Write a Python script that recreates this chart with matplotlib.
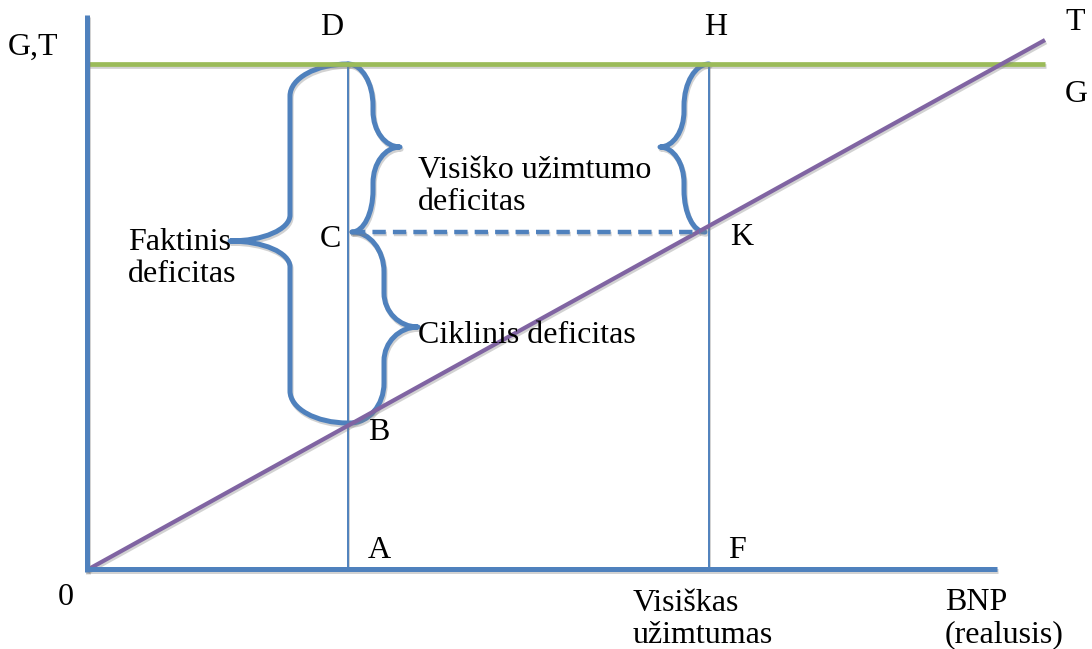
import matplotlib
matplotlib.use('Agg')
import matplotlib.pyplot as plt
import matplotlib.patheffects as pe
from matplotlib.path import Path
from matplotlib.patches import PathPatch

# Colours (Office palette)
blue   = '#4F81BD'
green  = '#9BBB59'
purple = '#8064A2'

# Key points of the diagram, in picture pixels (y grows downwards)
y_axis_x      = [87, 87]
y_axis_y      = [15, 572]
x_axis_x      = [85, 997]
x_axis_y      = [569, 569]
g_line_x      = [87, 1045]
g_line_y      = [64, 64]
t_line_x      = [87, 1045]
t_line_y      = [570, 40]
verticals_x   = [348, 709]
verticals_top = 64
verticals_bot = 570
dash_x        = [352, 700]
dash_y        = [232, 232]

# Braces: top end (x, y), bottom end (x, y), shoulder x, tip (x, y), end radius, tip radius
braces = [
	((348, 64), (348, 423), 290, (230, 241), 32, 26),
	((348, 64), (352, 232), 373, (400, 147), 42, 36),
	((352, 232), (350, 423), 384, (418, 327), 40, 34),
	((709, 64), (705, 232), 684, (660, 147), 42, 36),
]

# Labels: (text, x, baseline y)
labels = [
	('G,T', 8, 55),
	('D', 320, 35),
	('H', 704, 35),
	('T', 1065, 30),
	('G', 1065, 102),
	('Faktinis\ndeficitas', 128, 282),
	('C', 320, 247),
	('K', 730, 245),
	('Visiško užimtumo\ndeficitas', 418, 210),
	('Ciklinis deficitas', 418, 343),
	('B', 368, 440),
	('A', 368, 558),
	('F', 728, 558),
	('0', 58, 605),
	('Visiškas\nužimtumas', 633, 643),
	('BNP\n(realusis)', 945, 642),
]

k = 0.552

def brace_path(p_top, p_bot, xs, tip, r, r2):
	x0, y0 = p_top
	x1, y1 = p_bot
	xt, ym = tip
	verts = [
		(x0, y0),
		(x0 + k*(xs-x0), y0), (xs, y0 + r - k*r), (xs, y0 + r),
		(xs, ym - r2),
		(xs, ym - r2 + k*r2), (xt + k*(xs-xt), ym), (xt, ym),
		(xt + k*(xs-xt), ym), (xs, ym + r2 - k*r2), (xs, ym + r2),
		(xs, y1 - r),
		(xs, y1 - r + k*r), (x1 + k*(xs-x1), y1), (x1, y1),
	]
	codes = [Path.MOVETO,
		Path.CURVE4, Path.CURVE4, Path.CURVE4,
		Path.LINETO,
		Path.CURVE4, Path.CURVE4, Path.CURVE4,
		Path.CURVE4, Path.CURVE4, Path.CURVE4,
		Path.LINETO,
		Path.CURVE4, Path.CURVE4, Path.CURVE4]
	return Path(verts, codes)

plt.rcParams['font.family'] = 'serif'
plt.rcParams['font.serif'] = ['Liberation Serif', 'Times New Roman', 'DejaVu Serif']

fig = plt.figure(figsize=(10.92, 6.49), dpi=100)
ax = fig.add_axes([0, 0, 1, 1])
ax.set_xlim(0, 1092)
ax.set_ylim(649, 0)
ax.axis('off')

shadow = [pe.SimpleLineShadow(offset=(0.8, -1.6), shadow_color='gray', alpha=0.35), pe.Normal()]

# Thin vertical lines
for vx in verticals_x:
	ax.plot([vx, vx], [verticals_top, verticals_bot], color=blue, lw=1.4, solid_capstyle='butt', path_effects=shadow)

# G and T lines
ax.plot(g_line_x, g_line_y, color=green, lw=3.4, solid_capstyle='butt', path_effects=shadow)
ax.plot(t_line_x, t_line_y, color=purple, lw=3.0, solid_capstyle='butt', path_effects=shadow)

# Axes
ax.plot(y_axis_x, y_axis_y, color=blue, lw=3.6, solid_capstyle='butt', path_effects=shadow)
ax.plot(x_axis_x, x_axis_y, color=blue, lw=3.6, solid_capstyle='butt', path_effects=shadow)

# Dashed line C-K
ax.plot(dash_x, dash_y, color=blue, lw=3.2, dashes=(3.0, 1.6), path_effects=shadow)

# Braces
for b in braces:
	patch = PathPatch(brace_path(*b), facecolor='none', edgecolor=blue, lw=3.6,
		capstyle='round', joinstyle='round', path_effects=shadow)
	ax.add_patch(patch)

# Text
for text, tx, ty in labels:
	ax.text(tx, ty, text, fontsize=23, ha='left', va='baseline', linespacing=1.15, color='black')

plt.savefig('out.png', dpi=100)
plt.close()
